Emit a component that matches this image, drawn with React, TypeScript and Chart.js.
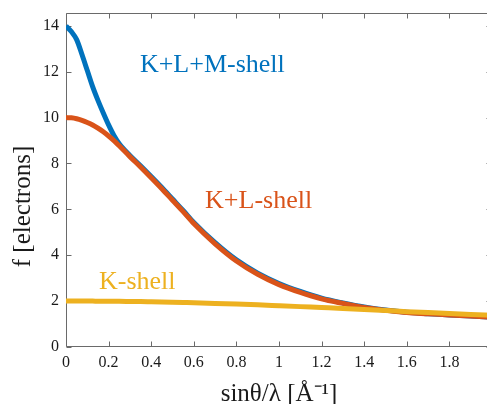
import React, { useEffect, useRef } from "react";
import { Chart, registerables } from "chart.js";

Chart.register(...registerables);

// sinθ/λ sample points (Å⁻¹)
const sValues = [
  0, 0.025, 0.05, 0.075, 0.1, 0.125, 0.15, 0.175, 0.2, 0.225, 0.25, 0.3, 0.35, 0.4, 0.45, 0.5,
  0.55, 0.6, 0.7, 0.8, 0.9, 1.0, 1.1, 1.2, 1.3, 1.4, 1.5, 1.6, 1.7, 1.8, 1.9, 2.0,
];

// scattering factor f (electrons)
const klmShell = [
  14.0, 13.75, 13.4, 12.75, 12.05, 11.35, 10.75, 10.2, 9.68, 9.22, 8.86, 8.35, 7.9, 7.43, 6.95, 6.45,
  5.95, 5.43, 4.55, 3.8, 3.22, 2.77, 2.42, 2.13, 1.92, 1.74, 1.61, 1.51, 1.45, 1.4, 1.35, 1.3,
];
const klShell = [
  10.0, 9.99, 9.95, 9.88, 9.79, 9.68, 9.54, 9.38, 9.2, 9.0, 8.77, 8.3, 7.85, 7.38, 6.9, 6.4,
  5.9, 5.38, 4.5, 3.75, 3.17, 2.72, 2.38, 2.1, 1.9, 1.72, 1.6, 1.5, 1.45, 1.4, 1.35, 1.3,
];
const kShell = [
  2.0, 2.0, 2.0, 2.0, 2.0, 2.0, 1.995, 1.995, 1.99, 1.99, 1.99, 1.985, 1.98, 1.97, 1.96, 1.95,
  1.94, 1.93, 1.9, 1.87, 1.84, 1.8, 1.76, 1.72, 1.68, 1.63, 1.59, 1.54, 1.5, 1.46, 1.42, 1.38,
];

const seriesNames = ["K+L+M-shell", "K+L-shell", "K-shell"];
const xTickValues = [0, 0.2, 0.4, 0.6, 0.8, 1, 1.2, 1.4, 1.6, 1.8, 2];
const yTickValues = [0, 2, 4, 6, 8, 10, 12, 14];
const xTitle = "sinθ/λ [Å⁻¹]";
const yTitle = "f [electrons]";

const BLUE = "#0072BD";
const RED = "#D95319";
const YELLOW = "#EDB120";
const SERIF = "'Liberation Serif', 'Times New Roman', serif";

const toPoints = (ys: number[]) => sValues.map((x, i) => ({ x, y: ys[i] }));

const matlabAxes = {
  id: "matlabAxes",
  beforeDatasetsDraw(chart: any) {
    const { ctx, chartArea, scales } = chart;
    const { left, right, top, bottom } = chartArea;
    const xs = scales.x;
    const ys = scales.y;
    const L = Math.round(left) + 0.5;
    const R = Math.round(right) - 0.5;
    const T = Math.round(top) + 0.5;
    const B = Math.round(bottom) - 0.5;
    const tl = 5;
    ctx.save();
    ctx.strokeStyle = "#6a6a6a";
    ctx.lineWidth = 1;
    ctx.beginPath();
    ctx.moveTo(L, T);
    ctx.lineTo(R, T);
    ctx.lineTo(R, B);
    ctx.lineTo(L, B);
    ctx.closePath();
    for (const v of xTickValues) {
      const px = Math.round(xs.getPixelForValue(v)) + 0.5;
      ctx.moveTo(px, B);
      ctx.lineTo(px, B - tl);
      ctx.moveTo(px, T);
      ctx.lineTo(px, T + tl);
    }
    for (const v of yTickValues) {
      const py = Math.round(ys.getPixelForValue(v)) + 0.5;
      ctx.moveTo(L, py);
      ctx.lineTo(L + tl, py);
      ctx.moveTo(R, py);
      ctx.lineTo(R - tl, py);
    }
    ctx.stroke();
    ctx.restore();
  },
  afterDatasetsDraw(chart: any, _args: any, opts: any) {
    const { ctx, scales } = chart;
    ctx.save();
    ctx.font = `26px ${SERIF}`;
    ctx.textAlign = "left";
    ctx.textBaseline = "alphabetic";
    for (const a of opts.annotations || []) {
      ctx.fillStyle = a.color;
      ctx.fillText(a.text, scales.x.getPixelForValue(a.x), scales.y.getPixelForValue(a.y));
    }
    ctx.restore();
  },
  afterDraw(chart: any, _args: any, opts: any) {
    const { ctx, chartArea } = chart;
    ctx.save();
    ctx.fillStyle = "#1a1a1a";
    ctx.font = `25px ${SERIF}`;
    ctx.textAlign = "center";
    ctx.textBaseline = "alphabetic";
    ctx.fillText(opts.xTitle, (chartArea.left + chartArea.right) / 2, opts.xTitleBaseline);
    ctx.translate(opts.yTitleBaseline, opts.yTitleCenter);
    ctx.rotate(-Math.PI / 2);
    ctx.fillText(opts.yTitle, 0, 0);
    ctx.restore();
  },
};

const noPad = (s: any) => {
  s.paddingLeft = 0;
  s.paddingRight = 0;
  s.paddingTop = 0;
  s.paddingBottom = 0;
};

export default function App() {
  const canvasRef = useRef<HTMLCanvasElement | null>(null);

  useEffect(() => {
    document.documentElement.style.overflow = "hidden";
    document.body.style.margin = "0";
    document.body.style.overflow = "hidden";
    const canvas = canvasRef.current;
    if (!canvas) return;
    const chart = new Chart(canvas, {
      type: "line",
      data: {
        datasets: [
          {
            label: seriesNames[2],
            data: toPoints(kShell),
            borderColor: YELLOW,
            backgroundColor: YELLOW,
          },
          {
            label: seriesNames[1],
            data: toPoints(klShell),
            borderColor: RED,
            backgroundColor: RED,
          },
          {
            label: seriesNames[0],
            data: toPoints(klmShell),
            borderColor: BLUE,
            backgroundColor: BLUE,
          },
        ],
      },
      plugins: [matlabAxes],
      options: {
        responsive: false,
        animation: false,
        devicePixelRatio: 1,
        layout: { padding: { top: 13, left: 0, right: 0, bottom: 0 } },
        elements: {
          point: { radius: 0, hoverRadius: 0 },
          line: { borderWidth: 5, cubicInterpolationMode: "monotone", borderJoinStyle: "round", fill: false },
        },
        plugins: {
          legend: { display: false },
          tooltip: { enabled: false },
          matlabAxes: {
            annotations: [
              { text: seriesNames[0], x: 0.347, y: 12.0, color: BLUE },
              { text: seriesNames[1], x: 0.653, y: 6.06, color: RED },
              { text: seriesNames[2], x: 0.155, y: 2.53, color: YELLOW },
            ],
            xTitle,
            yTitle,
            xTitleBaseline: 401,
            yTitleBaseline: 30,
            yTitleCenter: 206.5,
          },
        } as any,
        scales: {
          x: {
            type: "linear",
            min: 0,
            max: 2,
            grid: { display: false, drawTicks: false },
            border: { display: false },
            afterFit: (s: any) => {
              s.height = 57;
              noPad(s);
            },
            afterBuildTicks: (s: any) => {
              s.ticks = xTickValues.map((v) => ({ value: v }));
            },
            ticks: {
              autoSkip: false,
              maxRotation: 0,
              minRotation: 0,
              padding: 6,
              color: "#1a1a1a",
              font: { family: SERIF, size: 16 },
              callback: (v: any) => String(Math.round(Number(v) * 10) / 10),
            },
          },
          y: {
            type: "linear",
            min: 0,
            max: 14.56,
            grid: { display: false, drawTicks: false },
            border: { display: false },
            afterFit: (s: any) => {
              s.width = 66;
              noPad(s);
            },
            afterBuildTicks: (s: any) => {
              s.ticks = yTickValues.map((v) => ({ value: v }));
            },
            ticks: {
              autoSkip: false,
              padding: 7,
              color: "#1a1a1a",
              font: { family: SERIF, size: 16 },
              callback: (v: any) => String(v),
            },
          },
        },
      },
    });
    return () => chart.destroy();
  }, []);

  return (
    <div style={{ width: 492, height: 404, overflow: "hidden" }}>
      <canvas ref={canvasRef} width={492} height={404} style={{ display: "block", width: 492, height: 404 }} />
    </div>
  );
}
